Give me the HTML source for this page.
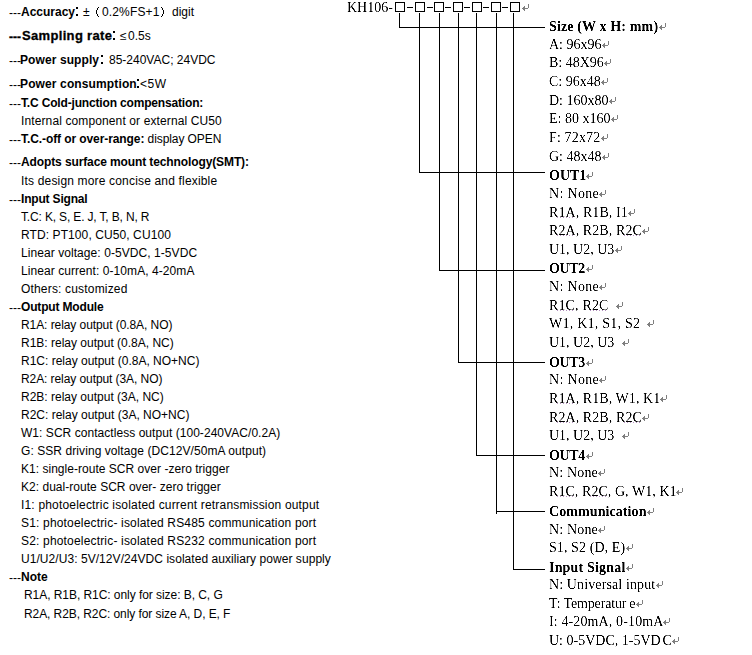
<!DOCTYPE html>
<html><head><meta charset="utf-8"><style>
html,body{margin:0;padding:0;background:#fff;}
body{width:752px;height:655px;position:relative;overflow:hidden;}
.l{position:absolute;font-family:"Liberation Sans",sans-serif;font-size:12px;line-height:18px;white-space:pre;color:#000;}
.l b{font-weight:bold;}
.r{position:absolute;filter:url(#thin);font-family:"Liberation Serif",serif;font-size:14px;line-height:18px;white-space:pre;color:#000;}
.r b{font-weight:bold;}
.ar{position:absolute;width:7px;height:7px;}
.ar svg{display:block;}
.dot{position:absolute;background:#000;width:2px;height:2px;}
.ls{position:absolute;}
.sq{position:absolute;height:1px;background:linear-gradient(to right,#9a6aa8 1px,transparent 1px) 0 0/3px 1px repeat-x;opacity:.75;}
</style></head><body>
<svg width="0" height="0" style="position:absolute"><filter id="thin" x="-0.2" y="-0.3" width="1.4" height="1.6"><feComponentTransfer><feFuncA type="linear" slope="2.0" intercept="-0.5"/></feComponentTransfer></filter></svg>
<div style="position:absolute;left:9px;top:4px;letter-spacing:0.000px;font-family:'Liberation Sans',sans-serif;font-size:12px;line-height:18px;white-space:pre;">---</div>
<div style="position:absolute;left:21px;top:3px;letter-spacing:0.000px;font-family:'Liberation Sans',sans-serif;font-size:12px;line-height:18px;white-space:pre;font-weight:bold;">Accuracy</div>
<div style="position:absolute;left:83px;top:3px;letter-spacing:0.000px;font-family:'Liberation Sans',sans-serif;font-size:12px;line-height:18px;white-space:pre;">±</div>
<div style="position:absolute;left:102px;top:3px;letter-spacing:0.143px;font-family:'Liberation Sans',sans-serif;font-size:12px;line-height:18px;white-space:pre;">0.2%FS+1</div>
<div style="position:absolute;left:172px;top:3px;letter-spacing:0.000px;font-family:'Liberation Sans',sans-serif;font-size:12px;line-height:18px;white-space:pre;">digit</div>
<div style="position:absolute;left:9px;top:28px;letter-spacing:0.000px;font-family:'Liberation Sans',sans-serif;font-size:12px;line-height:18px;white-space:pre;font-weight:bold;-webkit-text-stroke:0.3px #000;">---</div>
<div style="position:absolute;left:22px;top:27px;letter-spacing:0.333px;font-family:'Liberation Sans',sans-serif;font-size:12px;line-height:18px;white-space:pre;font-weight:bold;font-size:13px;-webkit-text-stroke:0.3px #000;">Sampling rate</div>
<div style="position:absolute;left:120px;top:27px;letter-spacing:0.000px;font-family:'Liberation Sans',sans-serif;font-size:12px;line-height:18px;white-space:pre;">≤</div>
<div style="position:absolute;left:128px;top:27px;letter-spacing:0.000px;font-family:'Liberation Sans',sans-serif;font-size:12px;line-height:18px;white-space:pre;">0.5s</div>
<div style="position:absolute;left:9px;top:52px;letter-spacing:0.000px;font-family:'Liberation Sans',sans-serif;font-size:12px;line-height:18px;white-space:pre;">---</div>
<div style="position:absolute;left:20px;top:51px;letter-spacing:0.091px;font-family:'Liberation Sans',sans-serif;font-size:12px;line-height:18px;white-space:pre;font-weight:bold;">Power supply</div>
<div style="position:absolute;left:109px;top:51px;letter-spacing:0.000px;font-family:'Liberation Sans',sans-serif;font-size:12px;line-height:18px;white-space:pre;">85-240VAC; 24VDC</div>
<div style="position:absolute;left:9px;top:76px;letter-spacing:0.000px;font-family:'Liberation Sans',sans-serif;font-size:12px;line-height:18px;white-space:pre;">---</div>
<div style="position:absolute;left:20px;top:75px;letter-spacing:0.125px;font-family:'Liberation Sans',sans-serif;font-size:12px;line-height:18px;white-space:pre;font-weight:bold;">Power consumption</div>
<div style="position:absolute;left:140px;top:75px;letter-spacing:0.500px;font-family:'Liberation Sans',sans-serif;font-size:12px;line-height:18px;white-space:pre;">&lt;5W</div>
<svg style="position:absolute;left:0;top:0" width="200" height="20" shape-rendering="crispEdges"><rect x="98" y="7" width="1" height="1" fill="#000"/><rect x="97" y="8" width="1" height="1" fill="#000"/><rect x="97" y="9" width="1" height="1" fill="#000"/><rect x="96" y="10" width="1" height="1" fill="#000"/><rect x="96" y="11" width="1" height="1" fill="#000"/><rect x="96" y="12" width="1" height="1" fill="#000"/><rect x="96" y="13" width="1" height="1" fill="#000"/><rect x="97" y="14" width="1" height="1" fill="#000"/><rect x="97" y="15" width="1" height="1" fill="#000"/><rect x="98" y="16" width="1" height="1" fill="#000"/><rect x="161" y="7" width="1" height="1" fill="#000"/><rect x="162" y="8" width="1" height="1" fill="#000"/><rect x="162" y="9" width="1" height="1" fill="#000"/><rect x="163" y="10" width="1" height="1" fill="#000"/><rect x="163" y="11" width="1" height="1" fill="#000"/><rect x="163" y="12" width="1" height="1" fill="#000"/><rect x="163" y="13" width="1" height="1" fill="#000"/><rect x="162" y="14" width="1" height="1" fill="#000"/><rect x="162" y="15" width="1" height="1" fill="#000"/><rect x="161" y="16" width="1" height="1" fill="#000"/></svg><i class="dot" style="left:76px;top:7px"></i><i class="dot" style="left:76px;top:14px"></i><i class="dot" style="left:113px;top:31px"></i><i class="dot" style="left:113px;top:38px"></i><i class="dot" style="left:101px;top:55px"></i><i class="dot" style="left:101px;top:62px"></i><i class="dot" style="left:137px;top:79px"></i><i class="dot" style="left:137px;top:86px"></i><div class="l" style="left:9px;top:95px">---</div><div class="l" id="L0" style="left:21px;top:94px;letter-spacing:-0.167px"><b>T.C Cold-junction compensation:</b></div>
<div class="l" id="L1" style="left:21px;top:112px;letter-spacing:0.118px">Internal component or external CU50</div>
<div class="l" style="left:9px;top:131px">---</div><div class="l" id="L2" style="left:21px;top:130px;letter-spacing:-0.086px"><b>T.C.-off or over-range:</b> display OPEN</div>
<div class="l" style="left:9px;top:154px">---</div><div class="l" id="L3" style="left:21px;top:153px;letter-spacing:-0.111px"><b>Adopts surface mount technology(SMT):</b></div>
<div class="l" id="L4" style="left:21px;top:172px;letter-spacing:0.171px">Its design more concise and flexible</div>
<div class="l" style="left:9px;top:191px">---</div><div class="l" id="L5" style="left:21px;top:190px;letter-spacing:-0.182px"><b>Input Signal</b></div>
<div class="l" id="L6" style="left:21px;top:208px;letter-spacing:-0.154px">T.C: K, S, E. J, T, B, N, R</div>
<div class="l" id="L7" style="left:21px;top:226px;letter-spacing:0.091px">RTD: PT100, CU50, CU100</div>
<div class="l" id="L8" style="left:21px;top:244px;letter-spacing:0.069px">Linear voltage: 0-5VDC, 1-5VDC</div>
<div class="l" id="L9" style="left:21px;top:262px;letter-spacing:0.069px">Linear current: 0-10mA, 4-20mA</div>
<div class="l" id="L10" style="left:21px;top:280px;letter-spacing:0.176px">Others: customized</div>
<div class="l" style="left:9px;top:299px">---</div><div class="l" id="L11" style="left:21px;top:298px;letter-spacing:-0.167px"><b>Output Module</b></div>
<div class="l" id="L12" style="left:21px;top:316px;letter-spacing:-0.074px">R1A: relay output (0.8A, NO)</div>
<div class="l" id="L13" style="left:21px;top:334px;letter-spacing:0.000px">R1B: relay output (0.8A, NC)</div>
<div class="l" id="L14" style="left:21px;top:352px;letter-spacing:0.000px">R1C: relay output (0.8A, NO+NC)</div>
<div class="l" id="L15" style="left:21px;top:370px;letter-spacing:-0.080px">R2A: relay output (3A, NO)</div>
<div class="l" id="L16" style="left:21px;top:388px;letter-spacing:0.000px">R2B: relay output (3A, NC)</div>
<div class="l" id="L17" style="left:21px;top:406px;letter-spacing:0.000px">R2C: relay output (3A, NO+NC)</div>
<div class="l" id="L18" style="left:21px;top:424px;letter-spacing:0.047px">W1: SCR contactless output (100-240VAC/0.2A)</div>
<div class="l" id="L19" style="left:21px;top:442px;letter-spacing:0.073px">G: SSR driving voltage (DC12V/50mA output)</div>
<div class="l" id="L20" style="left:21px;top:460px;letter-spacing:0.026px">K1: single-route SCR over -zero trigger</div>
<div class="l" id="L21" style="left:21px;top:478px;letter-spacing:0.028px">K2: dual-route SCR over- zero trigger</div>
<div class="l" id="L22" style="left:21px;top:496px;letter-spacing:0.182px">I1: photoelectric isolated current retransmission output</div>
<div class="l" id="L23" style="left:21px;top:514px;letter-spacing:0.176px">S1: photoelectric- isolated RS485 communication port</div>
<div class="l" id="L24" style="left:21px;top:532px;letter-spacing:0.176px">S2: photoelectric- isolated RS232 communication port</div>
<div class="l" id="L25" style="left:21px;top:550px;letter-spacing:0.057px">U1/U2/U3: 5V/12V/24VDC isolated auxiliary power supply</div>
<div class="l" style="left:9px;top:569px">---</div><div class="l" id="L26" style="left:21px;top:568px;letter-spacing:0.000px"><b>Note</b></div>
<div class="l" id="L27" style="left:24px;top:586px;letter-spacing:-0.056px">R1A, R1B, R1C: only for size: B, C, G</div>
<div class="l" id="L28" style="left:24px;top:605px;letter-spacing:-0.079px">R2A, R2B, R2C: only for size A, D, E, F</div>
<div class="r" style="left:347px;top:-1px">KH106-</div>
<i class="ar" style="left:659px;top:23px"><svg width="7" height="7" viewBox="0 0 7 7" shape-rendering="crispEdges" fill="#7f7f7f"><rect x="6" y="0" width="1" height="4"/><rect x="0" y="4" width="6" height="1"/><rect x="1" y="3" width="2" height="1"/><rect x="2" y="2" width="1" height="1"/><rect x="1" y="5" width="2" height="1"/><rect x="2" y="6" width="1" height="1"/></svg></i><div class="r" id="R1" style="left:549px;top:18px;letter-spacing:0.133px"><b>Size (W x H: mm)</b></div>
<i class="ar" style="left:602px;top:41px"><svg width="7" height="7" viewBox="0 0 7 7" shape-rendering="crispEdges" fill="#7f7f7f"><rect x="6" y="0" width="1" height="4"/><rect x="0" y="4" width="6" height="1"/><rect x="1" y="3" width="2" height="1"/><rect x="2" y="2" width="1" height="1"/><rect x="1" y="5" width="2" height="1"/><rect x="2" y="6" width="1" height="1"/></svg></i><div class="r" id="R2" style="left:549px;top:36px;letter-spacing:0.000px">A: 96x96</div>
<i class="ar" style="left:604px;top:59px"><svg width="7" height="7" viewBox="0 0 7 7" shape-rendering="crispEdges" fill="#7f7f7f"><rect x="6" y="0" width="1" height="4"/><rect x="0" y="4" width="6" height="1"/><rect x="1" y="3" width="2" height="1"/><rect x="2" y="2" width="1" height="1"/><rect x="1" y="5" width="2" height="1"/><rect x="2" y="6" width="1" height="1"/></svg></i><div class="r" id="R3" style="left:549px;top:54px;letter-spacing:0.000px">B: 48X96</div>
<i class="ar" style="left:601px;top:78px"><svg width="7" height="7" viewBox="0 0 7 7" shape-rendering="crispEdges" fill="#7f7f7f"><rect x="6" y="0" width="1" height="4"/><rect x="0" y="4" width="6" height="1"/><rect x="1" y="3" width="2" height="1"/><rect x="2" y="2" width="1" height="1"/><rect x="1" y="5" width="2" height="1"/><rect x="2" y="6" width="1" height="1"/></svg></i><div class="r" id="R4" style="left:549px;top:73px;letter-spacing:0.000px">C: 96x48</div>
<i class="ar" style="left:609px;top:97px"><svg width="7" height="7" viewBox="0 0 7 7" shape-rendering="crispEdges" fill="#7f7f7f"><rect x="6" y="0" width="1" height="4"/><rect x="0" y="4" width="6" height="1"/><rect x="1" y="3" width="2" height="1"/><rect x="2" y="2" width="1" height="1"/><rect x="1" y="5" width="2" height="1"/><rect x="2" y="6" width="1" height="1"/></svg></i><div class="r" id="R5" style="left:549px;top:92px;letter-spacing:0.000px">D: 160x80</div>
<i class="ar" style="left:611px;top:115px"><svg width="7" height="7" viewBox="0 0 7 7" shape-rendering="crispEdges" fill="#7f7f7f"><rect x="6" y="0" width="1" height="4"/><rect x="0" y="4" width="6" height="1"/><rect x="1" y="3" width="2" height="1"/><rect x="2" y="2" width="1" height="1"/><rect x="1" y="5" width="2" height="1"/><rect x="2" y="6" width="1" height="1"/></svg></i><div class="r" id="R6" style="left:549px;top:110px;letter-spacing:0.000px">E: 80 x160</div>
<i class="ar" style="left:601px;top:134px"><svg width="7" height="7" viewBox="0 0 7 7" shape-rendering="crispEdges" fill="#7f7f7f"><rect x="6" y="0" width="1" height="4"/><rect x="0" y="4" width="6" height="1"/><rect x="1" y="3" width="2" height="1"/><rect x="2" y="2" width="1" height="1"/><rect x="1" y="5" width="2" height="1"/><rect x="2" y="6" width="1" height="1"/></svg></i><div class="r" id="R7" style="left:549px;top:129px;letter-spacing:0.143px">F: 72x72</div>
<i class="ar" style="left:602px;top:153px"><svg width="7" height="7" viewBox="0 0 7 7" shape-rendering="crispEdges" fill="#7f7f7f"><rect x="6" y="0" width="1" height="4"/><rect x="0" y="4" width="6" height="1"/><rect x="1" y="3" width="2" height="1"/><rect x="2" y="2" width="1" height="1"/><rect x="1" y="5" width="2" height="1"/><rect x="2" y="6" width="1" height="1"/></svg></i><div class="r" id="R8" style="left:549px;top:148px;letter-spacing:0.000px">G: 48x48</div>
<i class="ar" style="left:586px;top:172px"><svg width="7" height="7" viewBox="0 0 7 7" shape-rendering="crispEdges" fill="#7f7f7f"><rect x="6" y="0" width="1" height="4"/><rect x="0" y="4" width="6" height="1"/><rect x="1" y="3" width="2" height="1"/><rect x="2" y="2" width="1" height="1"/><rect x="1" y="5" width="2" height="1"/><rect x="2" y="6" width="1" height="1"/></svg></i><div class="r" id="R9" style="left:549px;top:167px;letter-spacing:0.000px"><b>OUT1</b></div>
<i class="ar" style="left:599px;top:190px"><svg width="7" height="7" viewBox="0 0 7 7" shape-rendering="crispEdges" fill="#7f7f7f"><rect x="6" y="0" width="1" height="4"/><rect x="0" y="4" width="6" height="1"/><rect x="1" y="3" width="2" height="1"/><rect x="2" y="2" width="1" height="1"/><rect x="1" y="5" width="2" height="1"/><rect x="2" y="6" width="1" height="1"/></svg></i><div class="r" id="R10" style="left:549px;top:185px;letter-spacing:0.333px">N: None</div>
<i class="ar" style="left:628px;top:209px"><svg width="7" height="7" viewBox="0 0 7 7" shape-rendering="crispEdges" fill="#7f7f7f"><rect x="6" y="0" width="1" height="4"/><rect x="0" y="4" width="6" height="1"/><rect x="1" y="3" width="2" height="1"/><rect x="2" y="2" width="1" height="1"/><rect x="1" y="5" width="2" height="1"/><rect x="2" y="6" width="1" height="1"/></svg></i><div class="r" id="R11" style="left:549px;top:204px;letter-spacing:0.091px"><span class="sc">R1A</span>, R1B, I1</div>
<i class="ar" style="left:642px;top:227px"><svg width="7" height="7" viewBox="0 0 7 7" shape-rendering="crispEdges" fill="#7f7f7f"><rect x="6" y="0" width="1" height="4"/><rect x="0" y="4" width="6" height="1"/><rect x="1" y="3" width="2" height="1"/><rect x="2" y="2" width="1" height="1"/><rect x="1" y="5" width="2" height="1"/><rect x="2" y="6" width="1" height="1"/></svg></i><div class="r" id="R12" style="left:549px;top:222px;letter-spacing:0.083px"><span class="sc">R2A</span>, R2B, <span class="sc">R2C</span></div>
<i class="ar" style="left:615px;top:246px"><svg width="7" height="7" viewBox="0 0 7 7" shape-rendering="crispEdges" fill="#7f7f7f"><rect x="6" y="0" width="1" height="4"/><rect x="0" y="4" width="6" height="1"/><rect x="1" y="3" width="2" height="1"/><rect x="2" y="2" width="1" height="1"/><rect x="1" y="5" width="2" height="1"/><rect x="2" y="6" width="1" height="1"/></svg></i><div class="r" id="R13" style="left:549px;top:241px;letter-spacing:0.000px">U1, U2, U3</div>
<i class="ar" style="left:586px;top:265px"><svg width="7" height="7" viewBox="0 0 7 7" shape-rendering="crispEdges" fill="#7f7f7f"><rect x="6" y="0" width="1" height="4"/><rect x="0" y="4" width="6" height="1"/><rect x="1" y="3" width="2" height="1"/><rect x="2" y="2" width="1" height="1"/><rect x="1" y="5" width="2" height="1"/><rect x="2" y="6" width="1" height="1"/></svg></i><div class="r" id="R14" style="left:549px;top:260px;letter-spacing:-0.333px"><b>OUT2</b></div>
<i class="ar" style="left:599px;top:283px"><svg width="7" height="7" viewBox="0 0 7 7" shape-rendering="crispEdges" fill="#7f7f7f"><rect x="6" y="0" width="1" height="4"/><rect x="0" y="4" width="6" height="1"/><rect x="1" y="3" width="2" height="1"/><rect x="2" y="2" width="1" height="1"/><rect x="1" y="5" width="2" height="1"/><rect x="2" y="6" width="1" height="1"/></svg></i><div class="r" id="R15" style="left:549px;top:278px;letter-spacing:0.333px">N: None</div>
<i class="ar" style="left:616px;top:302px"><svg width="7" height="7" viewBox="0 0 7 7" shape-rendering="crispEdges" fill="#7f7f7f"><rect x="6" y="0" width="1" height="4"/><rect x="0" y="4" width="6" height="1"/><rect x="1" y="3" width="2" height="1"/><rect x="2" y="2" width="1" height="1"/><rect x="1" y="5" width="2" height="1"/><rect x="2" y="6" width="1" height="1"/></svg></i><div class="r" id="R16" style="left:549px;top:297px;letter-spacing:0.143px"><span class="sc">R1C</span>, <span class="sc">R2C</span></div>
<i class="ar" style="left:647px;top:320px"><svg width="7" height="7" viewBox="0 0 7 7" shape-rendering="crispEdges" fill="#7f7f7f"><rect x="6" y="0" width="1" height="4"/><rect x="0" y="4" width="6" height="1"/><rect x="1" y="3" width="2" height="1"/><rect x="2" y="2" width="1" height="1"/><rect x="1" y="5" width="2" height="1"/><rect x="2" y="6" width="1" height="1"/></svg></i><div class="r" id="R17" style="left:549px;top:315px;letter-spacing:0.231px">W1, K1, S1, S2</div>
<i class="ar" style="left:622px;top:339px"><svg width="7" height="7" viewBox="0 0 7 7" shape-rendering="crispEdges" fill="#7f7f7f"><rect x="6" y="0" width="1" height="4"/><rect x="0" y="4" width="6" height="1"/><rect x="1" y="3" width="2" height="1"/><rect x="2" y="2" width="1" height="1"/><rect x="1" y="5" width="2" height="1"/><rect x="2" y="6" width="1" height="1"/></svg></i><div class="r" id="R18" style="left:549px;top:334px;letter-spacing:0.000px">U1, U2, U3</div>
<i class="ar" style="left:586px;top:359px"><svg width="7" height="7" viewBox="0 0 7 7" shape-rendering="crispEdges" fill="#7f7f7f"><rect x="6" y="0" width="1" height="4"/><rect x="0" y="4" width="6" height="1"/><rect x="1" y="3" width="2" height="1"/><rect x="2" y="2" width="1" height="1"/><rect x="1" y="5" width="2" height="1"/><rect x="2" y="6" width="1" height="1"/></svg></i><div class="r" id="R19" style="left:549px;top:354px;letter-spacing:-0.333px"><b>OUT3</b></div>
<i class="ar" style="left:599px;top:376px"><svg width="7" height="7" viewBox="0 0 7 7" shape-rendering="crispEdges" fill="#7f7f7f"><rect x="6" y="0" width="1" height="4"/><rect x="0" y="4" width="6" height="1"/><rect x="1" y="3" width="2" height="1"/><rect x="2" y="2" width="1" height="1"/><rect x="1" y="5" width="2" height="1"/><rect x="2" y="6" width="1" height="1"/></svg></i><div class="r" id="R20" style="left:549px;top:371px;letter-spacing:0.333px">N: None</div>
<i class="ar" style="left:660px;top:395px"><svg width="7" height="7" viewBox="0 0 7 7" shape-rendering="crispEdges" fill="#7f7f7f"><rect x="6" y="0" width="1" height="4"/><rect x="0" y="4" width="6" height="1"/><rect x="1" y="3" width="2" height="1"/><rect x="2" y="2" width="1" height="1"/><rect x="1" y="5" width="2" height="1"/><rect x="2" y="6" width="1" height="1"/></svg></i><div class="r" id="R21" style="left:549px;top:390px;letter-spacing:0.067px"><span class="sc">R1A</span>, R1B, W1, K1</div>
<i class="ar" style="left:642px;top:414px"><svg width="7" height="7" viewBox="0 0 7 7" shape-rendering="crispEdges" fill="#7f7f7f"><rect x="6" y="0" width="1" height="4"/><rect x="0" y="4" width="6" height="1"/><rect x="1" y="3" width="2" height="1"/><rect x="2" y="2" width="1" height="1"/><rect x="1" y="5" width="2" height="1"/><rect x="2" y="6" width="1" height="1"/></svg></i><div class="r" id="R22" style="left:549px;top:409px;letter-spacing:0.083px"><span class="sc">R2A</span>, R2B, <span class="sc">R2C</span></div>
<i class="ar" style="left:622px;top:432px"><svg width="7" height="7" viewBox="0 0 7 7" shape-rendering="crispEdges" fill="#7f7f7f"><rect x="6" y="0" width="1" height="4"/><rect x="0" y="4" width="6" height="1"/><rect x="1" y="3" width="2" height="1"/><rect x="2" y="2" width="1" height="1"/><rect x="1" y="5" width="2" height="1"/><rect x="2" y="6" width="1" height="1"/></svg></i><div class="r" id="R23" style="left:549px;top:427px;letter-spacing:0.000px">U1, U2, U3</div>
<i class="ar" style="left:586px;top:452px"><svg width="7" height="7" viewBox="0 0 7 7" shape-rendering="crispEdges" fill="#7f7f7f"><rect x="6" y="0" width="1" height="4"/><rect x="0" y="4" width="6" height="1"/><rect x="1" y="3" width="2" height="1"/><rect x="2" y="2" width="1" height="1"/><rect x="1" y="5" width="2" height="1"/><rect x="2" y="6" width="1" height="1"/></svg></i><div class="r" id="R24" style="left:549px;top:447px;letter-spacing:-0.333px"><b>OUT4</b></div>
<i class="ar" style="left:598px;top:469px"><svg width="7" height="7" viewBox="0 0 7 7" shape-rendering="crispEdges" fill="#7f7f7f"><rect x="6" y="0" width="1" height="4"/><rect x="0" y="4" width="6" height="1"/><rect x="1" y="3" width="2" height="1"/><rect x="2" y="2" width="1" height="1"/><rect x="1" y="5" width="2" height="1"/><rect x="2" y="6" width="1" height="1"/></svg></i><div class="r" id="R25" style="left:549px;top:464px;letter-spacing:0.167px">N: None</div>
<i class="ar" style="left:676px;top:488px"><svg width="7" height="7" viewBox="0 0 7 7" shape-rendering="crispEdges" fill="#7f7f7f"><rect x="6" y="0" width="1" height="4"/><rect x="0" y="4" width="6" height="1"/><rect x="1" y="3" width="2" height="1"/><rect x="2" y="2" width="1" height="1"/><rect x="1" y="5" width="2" height="1"/><rect x="2" y="6" width="1" height="1"/></svg></i><div class="r" id="R26" style="left:549px;top:483px;letter-spacing:0.056px"><span class="sc">R1C</span>, <span class="sc">R2C</span>, G, W1, K1</div>
<i class="ar" style="left:647px;top:508px"><svg width="7" height="7" viewBox="0 0 7 7" shape-rendering="crispEdges" fill="#7f7f7f"><rect x="6" y="0" width="1" height="4"/><rect x="0" y="4" width="6" height="1"/><rect x="1" y="3" width="2" height="1"/><rect x="2" y="2" width="1" height="1"/><rect x="1" y="5" width="2" height="1"/><rect x="2" y="6" width="1" height="1"/></svg></i><div class="r" id="R27" style="left:549px;top:503px;letter-spacing:0.083px"><b>Communication</b></div>
<i class="ar" style="left:598px;top:526px"><svg width="7" height="7" viewBox="0 0 7 7" shape-rendering="crispEdges" fill="#7f7f7f"><rect x="6" y="0" width="1" height="4"/><rect x="0" y="4" width="6" height="1"/><rect x="1" y="3" width="2" height="1"/><rect x="2" y="2" width="1" height="1"/><rect x="1" y="5" width="2" height="1"/><rect x="2" y="6" width="1" height="1"/></svg></i><div class="r" id="R28" style="left:549px;top:521px;letter-spacing:0.167px">N: None</div>
<i class="ar" style="left:626px;top:544px"><svg width="7" height="7" viewBox="0 0 7 7" shape-rendering="crispEdges" fill="#7f7f7f"><rect x="6" y="0" width="1" height="4"/><rect x="0" y="4" width="6" height="1"/><rect x="1" y="3" width="2" height="1"/><rect x="2" y="2" width="1" height="1"/><rect x="1" y="5" width="2" height="1"/><rect x="2" y="6" width="1" height="1"/></svg></i><div class="r" id="R29" style="left:549px;top:539px;letter-spacing:0.083px">S1, S2 (D, E)</div>
<i class="ar" style="left:626px;top:564px"><svg width="7" height="7" viewBox="0 0 7 7" shape-rendering="crispEdges" fill="#7f7f7f"><rect x="6" y="0" width="1" height="4"/><rect x="0" y="4" width="6" height="1"/><rect x="1" y="3" width="2" height="1"/><rect x="2" y="2" width="1" height="1"/><rect x="1" y="5" width="2" height="1"/><rect x="2" y="6" width="1" height="1"/></svg></i><div class="r" id="R30" style="left:549px;top:559px;letter-spacing:0.182px"><b>Input Signal</b></div>
<i class="ar" style="left:656px;top:581px"><svg width="7" height="7" viewBox="0 0 7 7" shape-rendering="crispEdges" fill="#7f7f7f"><rect x="6" y="0" width="1" height="4"/><rect x="0" y="4" width="6" height="1"/><rect x="1" y="3" width="2" height="1"/><rect x="2" y="2" width="1" height="1"/><rect x="1" y="5" width="2" height="1"/><rect x="2" y="6" width="1" height="1"/></svg></i><div class="r" id="R31" style="left:549px;top:576px;letter-spacing:0.118px">N: Universal input</div>
<i class="ar" style="left:636px;top:600px"><svg width="7" height="7" viewBox="0 0 7 7" shape-rendering="crispEdges" fill="#7f7f7f"><rect x="6" y="0" width="1" height="4"/><rect x="0" y="4" width="6" height="1"/><rect x="1" y="3" width="2" height="1"/><rect x="2" y="2" width="1" height="1"/><rect x="1" y="5" width="2" height="1"/><rect x="2" y="6" width="1" height="1"/></svg></i><div class="r" id="R32" style="left:549px;top:595px;letter-spacing:-0.154px">T: Temperatur<span style="margin-left:3px">e</span></div>
<i class="ar" style="left:663px;top:618px"><svg width="7" height="7" viewBox="0 0 7 7" shape-rendering="crispEdges" fill="#7f7f7f"><rect x="6" y="0" width="1" height="4"/><rect x="0" y="4" width="6" height="1"/><rect x="1" y="3" width="2" height="1"/><rect x="2" y="2" width="1" height="1"/><rect x="1" y="5" width="2" height="1"/><rect x="2" y="6" width="1" height="1"/></svg></i><div class="r" id="R33" style="left:549px;top:613px;letter-spacing:0.125px">I: 4-20mA, 0-10mA</div>
<i class="ar" style="left:672px;top:637px"><svg width="7" height="7" viewBox="0 0 7 7" shape-rendering="crispEdges" fill="#7f7f7f"><rect x="6" y="0" width="1" height="4"/><rect x="0" y="4" width="6" height="1"/><rect x="1" y="3" width="2" height="1"/><rect x="2" y="2" width="1" height="1"/><rect x="1" y="5" width="2" height="1"/><rect x="2" y="6" width="1" height="1"/></svg></i><div class="r" id="R34" style="left:549px;top:632px;letter-spacing:0.000px">U: 0-5VDC, 1-5VD<span style="margin-left:2px">C</span></div>
<i class="sq" style="left:557px;top:217px;width:18px"></i><i class="sq" style="left:557px;top:235px;width:18px"></i><i class="sq" style="left:624px;top:235px;width:17px"></i><i class="sq" style="left:557px;top:310px;width:18px"></i><i class="sq" style="left:590px;top:310px;width:18px"></i><i class="sq" style="left:557px;top:403px;width:18px"></i><i class="sq" style="left:557px;top:422px;width:18px"></i><i class="sq" style="left:624px;top:422px;width:17px"></i><i class="sq" style="left:557px;top:496px;width:17px"></i><i class="sq" style="left:590px;top:496px;width:17px"></i><svg style="position:absolute;left:0;top:0" width="752" height="655">
<rect x="395.5" y="2.5" width="9" height="9" fill="none" stroke="#000" stroke-width="1"/>
<rect x="415.5" y="2.5" width="9" height="9" fill="none" stroke="#000" stroke-width="1"/>
<rect x="434.5" y="2.5" width="9" height="9" fill="none" stroke="#000" stroke-width="1"/>
<rect x="453.5" y="2.5" width="9" height="9" fill="none" stroke="#000" stroke-width="1"/>
<rect x="472.5" y="2.5" width="9" height="9" fill="none" stroke="#000" stroke-width="1"/>
<rect x="491.5" y="2.5" width="9" height="9" fill="none" stroke="#000" stroke-width="1"/>
<rect x="510.5" y="2.5" width="9" height="9" fill="none" stroke="#000" stroke-width="1"/>
<rect x="407" y="7" width="6" height="1" fill="#000"/>
<rect x="427" y="7" width="6" height="1" fill="#000"/>
<rect x="445" y="7" width="6" height="1" fill="#000"/>
<rect x="464" y="7" width="6" height="1" fill="#000"/>
<rect x="483" y="7" width="6" height="1" fill="#000"/>
<rect x="502" y="7" width="6" height="1" fill="#000"/>
<rect x="399" y="13" width="1" height="15" fill="#000"/>
<rect x="399" y="27" width="146" height="1" fill="#000"/>
<rect x="419" y="13" width="1" height="160" fill="#000"/>
<rect x="419" y="172" width="126" height="1" fill="#000"/>
<rect x="439" y="13" width="1" height="258" fill="#000"/>
<rect x="439" y="270" width="106" height="1" fill="#000"/>
<rect x="458" y="13" width="1" height="350" fill="#000"/>
<rect x="458" y="362" width="87" height="1" fill="#000"/>
<rect x="476" y="13" width="1" height="443" fill="#000"/>
<rect x="476" y="455" width="69" height="1" fill="#000"/>
<rect x="496" y="13" width="1" height="501" fill="#000"/>
<rect x="496" y="511" width="49" height="1" fill="#000"/>
<rect x="513" y="13" width="1" height="557" fill="#000"/>
<rect x="513" y="569" width="32" height="1" fill="#000"/>
</svg><i class="ar" style="left:522px;top:4px"><svg width="7" height="7" viewBox="0 0 7 7" shape-rendering="crispEdges" fill="#7f7f7f"><rect x="6" y="0" width="1" height="4"/><rect x="0" y="4" width="6" height="1"/><rect x="1" y="3" width="2" height="1"/><rect x="2" y="2" width="1" height="1"/><rect x="1" y="5" width="2" height="1"/><rect x="2" y="6" width="1" height="1"/></svg></i>
</body></html>
